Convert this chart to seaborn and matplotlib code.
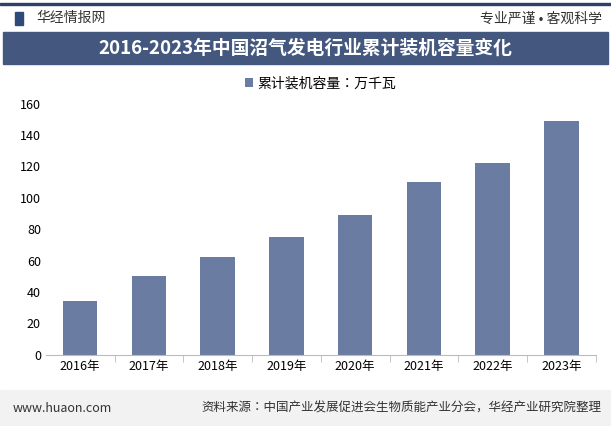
import seaborn as sns
import pandas as pd
import matplotlib.pyplot as plt
from matplotlib import font_manager
from matplotlib.patches import Rectangle

# pick whichever CJK family name is registered
names = {f.name for f in font_manager.fontManager.ttflist}
cjk = [n for n in ['Noto Sans CJK SC', 'Noto Sans CJK JP', 'Noto Sans CJK TC', 'Noto Sans CJK KR'] if n in names]
plt.rcParams['font.family'] = cjk + ['DejaVu Sans']

years = ['2016年', '2017年', '2018年', '2019年', '2020年', '2021年', '2022年', '2023年']
capacity = [34, 50, 62, 75, 89, 110, 122, 149]
series_name = '累计装机容量：万千瓦'
y_ticks = [0, 20, 40, 60, 80, 100, 120, 140, 160]

df = pd.DataFrame({'year': years, 'value': capacity})

fig = plt.figure(figsize=(6.11, 4.26), dpi=100)
fig.patch.set_facecolor('white')

# header strip
fig.add_artist(Rectangle((0, 0.988), 1, 0.005, transform=fig.transFigure, color='#2e4066'))
fig.add_artist(Rectangle((0.025, 0.942), 0.012, 0.03, transform=fig.transFigure, color='#2e4a78'))
fig.text(0.06, 0.957, '华经情报网', fontsize=10, color='#333333', va='center')
fig.text(0.985, 0.957, '专业严谨 • 客观科学', fontsize=10, color='#333333', va='center', ha='right')

# title banner
fig.add_artist(Rectangle((0.005, 0.85), 0.99, 0.075, transform=fig.transFigure, color='#44587f'))
fig.text(0.5, 0.887, '2016-2023年中国沼气发电行业累计装机容量变化', fontsize=13.5,
         color='white', weight='bold', ha='center', va='center')

ax = fig.add_axes([0.075, 0.167, 0.9, 0.59])
sns.barplot(data=df, x='year', y='value', color='#6b7ca3', width=0.5, ax=ax,
            saturation=1, label=series_name)
ax.set_ylim(0, 160)
ax.set_yticks(y_ticks)
ax.set_xlabel('')
ax.set_ylabel('')
for s in ['top', 'right', 'left']:
    ax.spines[s].set_visible(False)
ax.spines['bottom'].set_color('#bbbbbb')
ax.tick_params(axis='y', length=0, labelsize=9)
ax.set_xticks([i + 0.5 for i in range(len(years))], minor=True)
ax.tick_params(axis='x', which='minor', length=5, color='#bbbbbb')
ax.tick_params(axis='x', which='major', length=0, labelsize=9)
ax.legend(loc='center', bbox_to_anchor=(0.5, 1.08), frameon=False, fontsize=10,
          handlelength=0.6, handleheight=0.6, handletextpad=0.3)

# footer
fig.add_artist(Rectangle((0, 0.0), 1, 0.085, transform=fig.transFigure, color='#f2f2f2'))
fig.text(0.02, 0.042, 'www.huaon.com', fontsize=9, color='#333333', va='center')
fig.text(0.985, 0.042, '资料来源：中国产业发展促进会生物质能产业分会，华经产业研究院整理',
         fontsize=9, color='#333333', va='center', ha='right')

plt.savefig('out.png', dpi=100)
